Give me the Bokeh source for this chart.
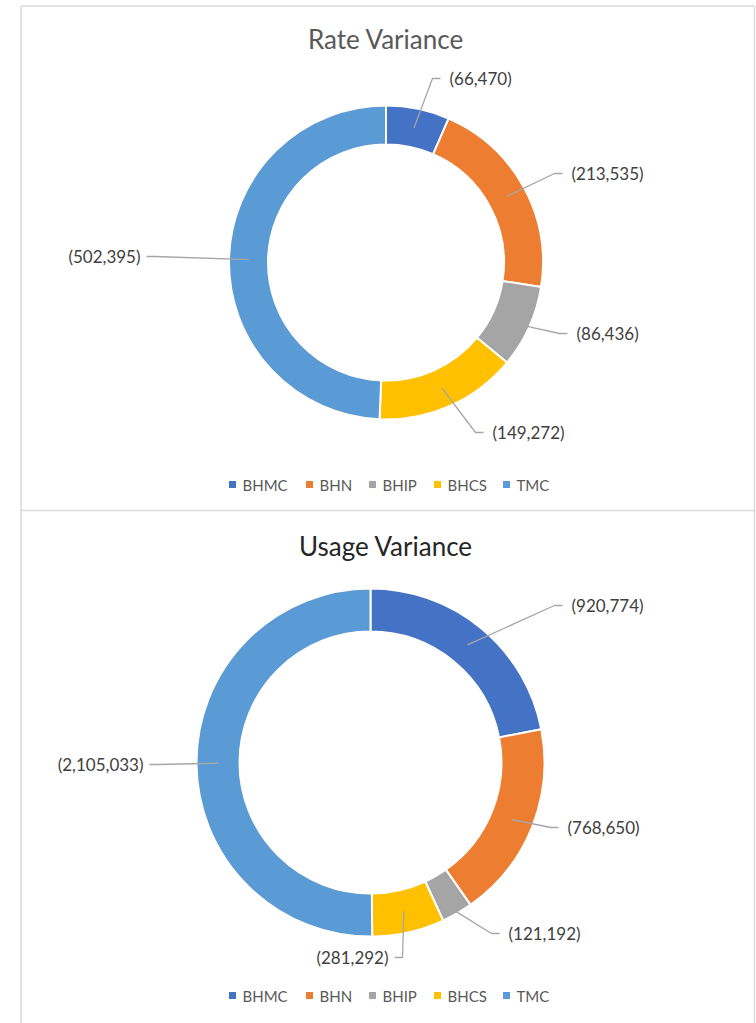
import math
from bokeh.plotting import figure
from bokeh.models import Range1d
from bokeh.core.properties import value
from bokeh.embed import file_html
from bokeh.resources import INLINE

categories = ["BHMC", "BHN", "BHIP", "BHCS", "TMC"]
colors = ["#4472C4", "#ED7D31", "#A5A5A5", "#FFC000", "#5B9BD5"]
rate_values = [66470, 213535, 86436, 149272, 502395]
usage_values = [920774, 768650, 121192, 281292, 2105033]
titles = ["Rate Variance", "Usage Variance"]

FONT = value("Lato")

# layout (screen pixel positions) for each chart
charts = [
    dict(values=rate_values, title=titles[0], cx=385.5, cy=262, r_out=157, r_in=118,
         title_y=38, title_color="#595959", legend_y=484,
         labels=[(449, 78, "L"), (571, 173, "L"), (576, 333, "L"), (492, 432, "L"), (140, 256, "R")],
         anchor_kind=["mid", "mid", "out", "mid", "mid"]),
    dict(values=usage_values, title=titles[1], cx=370, cy=762, r_out=174, r_in=131,
         title_y=545, title_color="#262626", legend_y=995,
         labels=[(571, 605, "L"), (567, 827, "L"), (508, 933, "L"), (388, 957, "R"), (143, 764, "R")],
         anchor_kind=["mid", "mid", "out", "mid", "mid"]),
]
legend_sq_x = [232, 309, 372, 437, 506]

W, H = 756, 1023
p = figure(width=W, height=H, x_range=Range1d(0, W), y_range=Range1d(-H, 0),
           output_backend="svg", toolbar_location=None, min_border=0,
           x_axis_type=None, y_axis_type=None)
p.outline_line_color = None
p.background_fill_color = "white"
p.border_fill_color = "white"

Y = lambda s: -s  # screen y -> data y

# chart borders
border = "#D9D9D9"
p.line([20.5, 20.5], [Y(5.5), Y(1030)], line_color=border, line_width=1.5)
p.line([754, 754], [Y(5.5), Y(1030)], line_color=border, line_width=1.5)
p.line([20.5, 754], [Y(5.5), Y(5.5)], line_color=border, line_width=1.5)
p.line([20.5, 754], [Y(510), Y(510)], line_color=border, line_width=1.5)

for ch in charts:
    vals = ch["values"]
    total = float(sum(vals))
    cx, cy = ch["cx"], Y(ch["cy"])
    cum = 0.0
    starts, ends, mids = [], [], []
    for v in vals:
        f0 = cum / total
        cum += v
        f1 = cum / total
        starts.append(math.pi / 2 - 2 * math.pi * f0)
        ends.append(math.pi / 2 - 2 * math.pi * f1)
        mids.append(math.pi / 2 - 2 * math.pi * (f0 + f1) / 2)
    p.annular_wedge(x=[cx] * len(vals), y=[cy] * len(vals),
                    inner_radius=ch["r_in"], outer_radius=ch["r_out"],
                    start_angle=starts, end_angle=ends, direction="clock",
                    fill_color=colors, line_color="white", line_width=2)

    # title
    p.text(x=[385.5], y=[Y(ch["title_y"])], text=[ch["title"]], text_font=FONT,
           text_font_size="26px", text_color=ch["title_color"],
           text_align="center", text_baseline="middle")

    # data labels with leader lines
    r_mid = (ch["r_in"] + ch["r_out"]) / 2.0
    for i, v in enumerate(vals):
        lx, ly, side = ch["labels"][i]
        r_a = r_mid if ch["anchor_kind"][i] == "mid" else ch["r_out"] - 2
        ax = cx + r_a * math.cos(mids[i])
        ay = cy + r_a * math.sin(mids[i])
        if side == "L":
            ex, hx = lx - 17, lx - 9
            align = "left"
        else:
            ex, hx = lx + 14, lx + 6
            align = "right"
        p.line([ax, ex, hx], [ay, Y(ly), Y(ly)], line_color="#A6A6A6", line_width=1.3)
        p.text(x=[lx], y=[Y(ly)], text=["({:,})".format(v)], text_font=FONT,
               text_font_size="17px", text_color="#404040",
               text_align=align, text_baseline="middle")

    # legend
    ly = Y(ch["legend_y"])
    p.rect(x=legend_sq_x, y=[ly] * 5, width=7, height=7, fill_color=colors, line_color=None)
    p.text(x=[sx + 10 for sx in legend_sq_x], y=[ly] * 5, text=categories, text_font=FONT,
           text_font_size="15px", text_color="#595959",
           text_align="left", text_baseline="middle")

open("out.html", "w").write(file_html(p, INLINE))
